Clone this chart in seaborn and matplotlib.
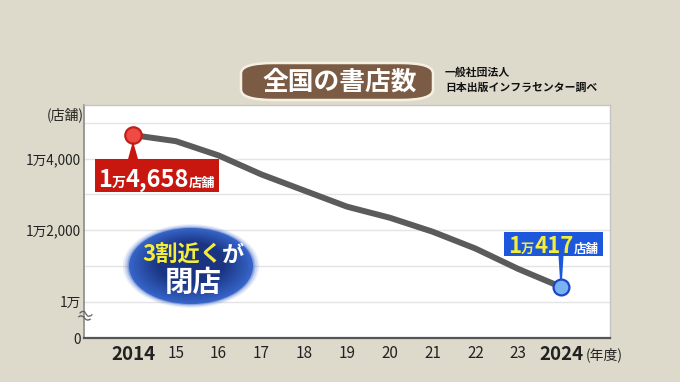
import numpy as np
import pandas as pd
import seaborn as sns
import matplotlib
matplotlib.use("Agg")
import matplotlib.pyplot as plt
from matplotlib.patches import Rectangle, Ellipse, FancyBboxPatch, Polygon
from matplotlib.transforms import IdentityTransform, Bbox
from matplotlib.colors import to_rgb

# ---------------- data ----------------
years = [2014, 2015, 2016, 2017, 2018, 2019, 2020, 2021, 2022, 2023, 2024]
stores = [14658, 14490, 14090, 13560, 13110, 12660, 12350, 11960, 11490, 10920, 10417]
x_labels = ["2014", "15", "16", "17", "18", "19", "20", "21", "22", "23", "2024"]
y_tick_values = [10000, 12000, 14000]
y_tick_labels = ["1万", "1万2,000", "1万4,000"]
grid_values = [10000, 11000, 12000, 13000, 14000, 15000]
title = "全国の書店数"
source_lines = ["一般社団法人", "日本出版インフラセンター調べ"]
y_unit = "(店舗)"
x_unit = "(年度)"
oval_line1 = [("3割近く", "yellow"), ("が", "white")]
oval_line2 = "閉店"

# ---------------- style ----------------
BG = "#dedacb"
LINE = "#5b5b5b"
RED = "#c8170f"
BLUE = "#1c57dc"
YELLOW = "#f4ee3a"
AXIS_FLOOR = 8990   # position of the broken-axis "0"

sns.set_theme(style="white")
plt.rcParams["font.family"] = ["Noto Sans CJK JP", "DejaVu Sans"]

W, H = 680, 382
fig = plt.figure(figsize=(W / 100, H / 100), dpi=100, facecolor=BG)
ax = fig.add_axes([84 / W, 1 - 338 / H, 526 / W, 233 / H])
ax.set_facecolor("white")

df = pd.DataFrame({"year": years, "stores": stores})
for v in grid_values:
    ax.axhline(v, color="#e4e4e4", lw=1.0, zorder=1)

sns.lineplot(data=df, x="year", y="stores", ax=ax, color=LINE, linewidth=4.3,
             zorder=3, solid_capstyle="round")
sns.scatterplot(data=df.iloc[[0]], x="year", y="stores", ax=ax, s=140,
                color="#f04a45", edgecolor="#c0201a", linewidth=1.6, zorder=4)
sns.scatterplot(data=df.iloc[[-1]], x="year", y="stores", ax=ax, s=130,
                color="#79b3f4", edgecolor="#1c46c8", linewidth=1.6, zorder=4)

ax.set_xlim(2012.855, 2025.145)
ax.set_ylim(AXIS_FLOOR, 15500)
ax.set_xlabel("")
ax.set_ylabel("")
ax.set_xticks(years)
ax.set_xticklabels(x_labels)
ax.set_yticks([AXIS_FLOOR] + y_tick_values)
ax.set_yticklabels(["0"] + y_tick_labels)
ax.tick_params(axis="x", length=0, pad=5, labelsize=11, labelcolor="#222222")
ax.tick_params(axis="y", length=0, pad=2.5, labelsize=9.8, labelcolor="#222222")
xt = ax.get_xticklabels()
for t in (xt[0], xt[-1]):
    t.set_fontsize(13.5)
    t.set_fontweight("bold")

for side in ["top", "right"]:
    ax.spines[side].set_color("#c4c4c4")
    ax.spines[side].set_linewidth(1.0)
ax.spines["left"].set_color("#8a8a8a")
ax.spines["left"].set_linewidth(1.2)
ax.spines["bottom"].set_color("#555555")
ax.spines["bottom"].set_linewidth(1.6)

ax.text(-0.036, 0.957, y_unit, transform=ax.transAxes, ha="center", va="center",
        fontsize=10, color="#222222")
ax.text(0.989, -0.071, x_unit, transform=ax.transAxes, ha="center", va="center",
        fontsize=10, color="#222222")
ax.text(0.0, 0.086, "≈", transform=ax.transAxes, ha="center", va="center",
        fontsize=13, color="#555555", rotation=-20)

# ---------------- title ----------------
pill = FancyBboxPatch((241 / W, 1 - 100 / H), 192 / W, 37 / H,
                      boxstyle="round,pad=0,rounding_size=0.048",
                      transform=fig.transFigure, facecolor="#7b5b43",
                      edgecolor="#f6f0e2", linewidth=1.8, mutation_aspect=H / W * 1.0)
fig.add_artist(pill)
fig.text(340 / W, 1 - 82 / H, title, ha="center", va="center", fontsize=18.5,
         fontweight="bold", color="white")
fig.text(445 / W, 1 - 73 / H, source_lines[0], ha="left", va="center", fontsize=7.8,
         fontweight="bold", color="#111111")
fig.text(445 / W, 1 - 88 / H, source_lines[1], ha="left", va="center", fontsize=7.8,
         fontweight="bold", color="#111111")

# ---------------- helpers ----------------
ID = IdentityTransform()
renderer = fig.canvas.get_renderer()


def rich_text(segments, x, y, ha="left", zorder=10):
    texts = []
    for s, size, color in segments:
        t = fig.text(0, 0, s, fontsize=size, color=color, fontweight="bold",
                     transform=ID, va="baseline", ha="left", zorder=zorder)
        texts.append(t)
    widths = [t.get_window_extent(renderer).width for t in texts]
    x0 = x - sum(widths) / 2 if ha == "center" else x
    for t, w in zip(texts, widths):
        t.set_position((x0, y))
        x0 += w
    bb = Bbox.union([t.get_window_extent(renderer) for t in texts])
    return bb


def split_man(v):
    man = v // 10000
    rest = v % 10000
    return str(man), f"{rest:,}"


# ---------------- red callout (first point) ----------------
mx, my = ax.transData.transform((years[0], stores[0]))
a, b = split_man(stores[0])
base = my - 52
bb = rich_text([(a, 17, "white"), ("万", 10, "white"), (b, 17, "white"),
                ("店舗", 9.5, "white")], mx - 35, base)
box = Rectangle((bb.x0 - 3, base - 5), bb.width + 6, 33, transform=ID,
                facecolor=RED, edgecolor="none", zorder=8)
fig.add_artist(box)
fig.add_artist(Polygon([(mx, my - 6), (mx - 5, base + 28), (mx + 5, base + 28)],
                       closed=True, transform=ID, facecolor=RED, edgecolor="none",
                       zorder=8))

# ---------------- blue callout (last point) ----------------
mx, my = ax.transData.transform((years[-1], stores[-1]))
a, b = split_man(stores[-1])
base = my + 34
bb = rich_text([(a, 16, YELLOW), ("万", 9.5, YELLOW), (b, 16, YELLOW),
                ("店舗", 9, "white")], mx - 53, base)
box = Rectangle((bb.x0 - 4, base - 3), bb.width + 8, 24, transform=ID,
                facecolor=BLUE, edgecolor="none", zorder=8)
fig.add_artist(box)
fig.add_artist(Polygon([(mx - 1, my + 7), (mx + 1, my + 7), (mx + 2.5, base - 3),
                        (mx - 2.5, base - 3)], closed=True, transform=ID,
                       facecolor=BLUE, edgecolor="none", zorder=8))

# ---------------- oval ----------------
cx, cy = 191, H - 266
ow, oh = 124, 76
# soft halo
for s, a_ in [(1.10, 0.12), (1.07, 0.18), (1.04, 0.28), (1.02, 0.45)]:
    fig.add_artist(Ellipse((cx, cy), ow * s, oh * s, transform=ID,
                           facecolor="#4d74cf", edgecolor="none", alpha=a_, zorder=6))
c_out = np.array(to_rgb("#3563c6"))
c_in = np.array(to_rgb("#1a3482"))
n = 12
for i in range(n):
    t = i / (n - 1)
    s = 1.0 - 0.45 * t
    col = c_out * (1 - t) + c_in * t
    fig.add_artist(Ellipse((cx, cy + 3 * t), ow * s, oh * s, transform=ID,
                           facecolor=col, edgecolor="none", alpha=1.0, zorder=6))
segs = [(s, 16, YELLOW if c == "yellow" else "white") for s, c in oval_line1]
rich_text(segs, cx + 2, H - 262, ha="center")
fig.text(cx + 2, H - 283, oval_line2, transform=ID, ha="center", va="center",
         fontsize=20.5, fontweight="bold", color="white", zorder=10)

fig.savefig("out.png", dpi=100, facecolor=BG)
